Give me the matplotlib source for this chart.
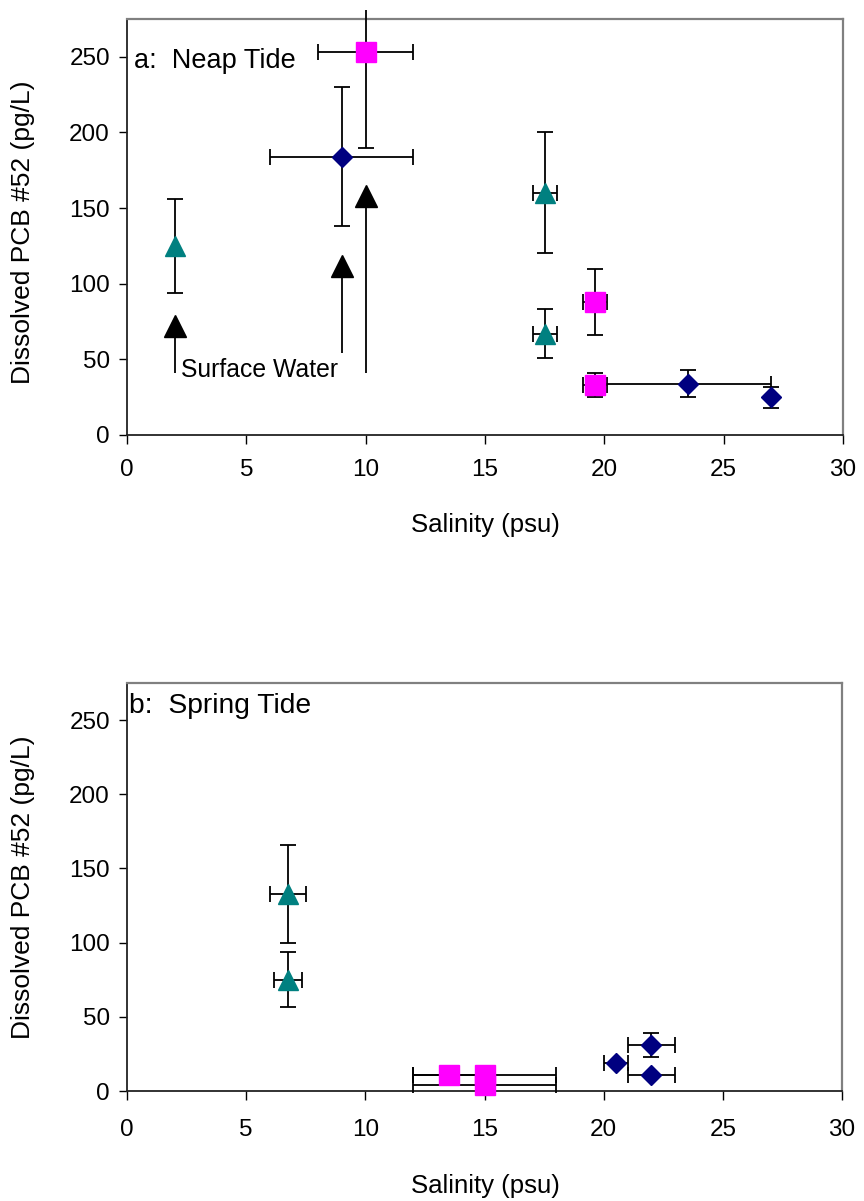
import matplotlib
matplotlib.use("Agg")
import matplotlib.pyplot as plt
from matplotlib.transforms import Bbox, TransformedBbox

plt.rcParams['font.family'] = ['Liberation Sans', 'DejaVu Sans']

# ---------------- Panel a: Neap Tide ----------------
a_diamond_x = [9.0, 23.5, 27.0]
a_diamond_y = [184, 34, 25]
a_diamond_xerr = [3.0, 3.5, 0.0]
a_diamond_yerr = [46, 9, 7]

a_square_x = [10.0, 19.6, 19.6]
a_square_y = [253, 88, 33]
a_square_xerr = [2.0, 0.5, 0.5]
a_square_yerr = [63, 22, 8]

a_triangle_x = [2.0, 17.5, 17.5]
a_triangle_y = [125, 160, 67]
a_triangle_xerr = [0.0, 0.5, 0.5]
a_triangle_yerr = [31, 40, 16]

surface_x = [2.0, 9.0, 10.0]
surface_y = [72, 112, 158]
surface_base = [41, 54, 41]

# ---------------- Panel b: Spring Tide ----------------
b_diamond_x = [20.5, 22.0, 22.0]
b_diamond_y = [19, 31, 11]
b_diamond_xerr = [0.5, 1.0, 1.0]
b_diamond_yerr = [0, 8, 0]

b_square_x = [13.5, 15.0, 15.0]
b_square_y = [11, 11, 4]
b_square_xerr = [1.5, 3.0, 3.0]
b_square_yerr = [0, 0, 0]

b_triangle_x = [6.75, 6.75]
b_triangle_y = [133, 75]
b_triangle_xerr = [0.75, 0.6]
b_triangle_yerr = [33, 18.5]

x_ticks = [0, 5, 10, 15, 20, 25, 30]
y_ticks = [0, 50, 100, 150, 200, 250]
x_label = "Salinity (psu)"
y_label = "Dissolved PCB #52 (pg/L)"

NAVY = "#000080"
MAGENTA = "#FF00FF"
TEAL = "#008080"

W, H = 864, 1201
fig = plt.figure(figsize=(W / 100, H / 100), dpi=100, facecolor="white")


def px_axes(left, top, right, bottom):
    return fig.add_axes([left / W, 1 - bottom / H, (right - left) / W, (bottom - top) / H])


ax_a = px_axes(127, 19, 843, 435)
ax_b = px_axes(127, 683, 842, 1091)


def series(ax, xs, ys, xerrs, yerrs, marker, color, ms, clipbox):
    for x, y, xe, ye in zip(xs, ys, xerrs, yerrs):
        if not xe and not ye:
            continue
        eb = ax.errorbar(x, y, xerr=xe if xe else None, yerr=ye if ye else None,
                         fmt="none", ecolor="black", elinewidth=1.3, capsize=6,
                         capthick=1.3, zorder=3)
        for art in list(eb.lines[1]) + list(eb.lines[2]):
            art.set_clip_box(clipbox)
    ax.plot(xs, ys, linestyle="none", marker=marker, ms=ms, mfc=color, mec=color,
            clip_on=False, zorder=4)


def style(ax, xpad):
    ax.set_xlim(0, 30)
    ax.set_ylim(0, 275)
    ax.set_xticks(x_ticks)
    ax.set_yticks(y_ticks)
    ax.tick_params(axis="x", direction="out", length=6.5, width=1, pad=xpad, labelsize=17.5)
    ax.tick_params(axis="y", direction="out", length=5.8, width=1, pad=6.5, labelsize=17.5)
    for s in ["top", "right"]:
        ax.spines[s].set_color("#808080")
        ax.spines[s].set_linewidth(1.6)
    for s in ["left", "bottom"]:
        ax.spines[s].set_color("#222222")
        ax.spines[s].set_linewidth(1.3)


for ax, xpad in ((ax_a, 11), (ax_b, 14)):
    style(ax, xpad)

clip_a = TransformedBbox(Bbox([[-0.05, -0.05], [1.05, 1.0225]]), ax_a.transAxes)
clip_b = TransformedBbox(Bbox([[-0.05, -0.05], [1.05, 1.02]]), ax_b.transAxes)

# Panel a
ax_a.vlines(surface_x, surface_base, surface_y, color="black", lw=1.3, zorder=3)
ax_a.plot(surface_x, surface_y, linestyle="none", marker="^", ms=16, mfc="black",
          mec="black", zorder=4)
series(ax_a, a_diamond_x, a_diamond_y, a_diamond_xerr, a_diamond_yerr, "D", NAVY, 10, clip_a)
series(ax_a, a_triangle_x, a_triangle_y, a_triangle_xerr, a_triangle_yerr, "^", TEAL, 14.5, clip_a)
series(ax_a, a_square_x, a_square_y, a_square_xerr, a_square_yerr, "s", MAGENTA, 14, clip_a)

ax_a.text(0.0098, 0.882, "a:  Neap Tide", transform=ax_a.transAxes, ha="left",
          va="baseline", fontsize=19.5)
ax_a.text(2.26, 38.6, "Surface Water", ha="left", va="baseline", fontsize=17.8)

# Panel b
series(ax_b, b_diamond_x, b_diamond_y, b_diamond_xerr, b_diamond_yerr, "D", NAVY, 10, clip_b)
series(ax_b, b_triangle_x, b_triangle_y, b_triangle_xerr, b_triangle_yerr, "^", TEAL, 14.5, clip_b)
series(ax_b, b_square_x, b_square_y, b_square_xerr, b_square_yerr, "s", MAGENTA, 14, clip_b)

ax_b.text(0.003, 0.9265, "b:  Spring Tide", transform=ax_b.transAxes, ha="left",
          va="baseline", fontsize=20.3)

# Axis labels
fig.text(485 / W, 1 - 525 / H, x_label, ha="center", va="center", fontsize=18.5)
fig.text(485 / W, 1 - 1186 / H, x_label, ha="center", va="center", fontsize=18.5)
fig.text(23 / W, 1 - 232 / H, y_label, ha="center", va="center", rotation=90, fontsize=19)
fig.text(23 / W, 1 - 887 / H, y_label, ha="center", va="center", rotation=90, fontsize=19)

fig.savefig("out.png", dpi=100, facecolor="white")
